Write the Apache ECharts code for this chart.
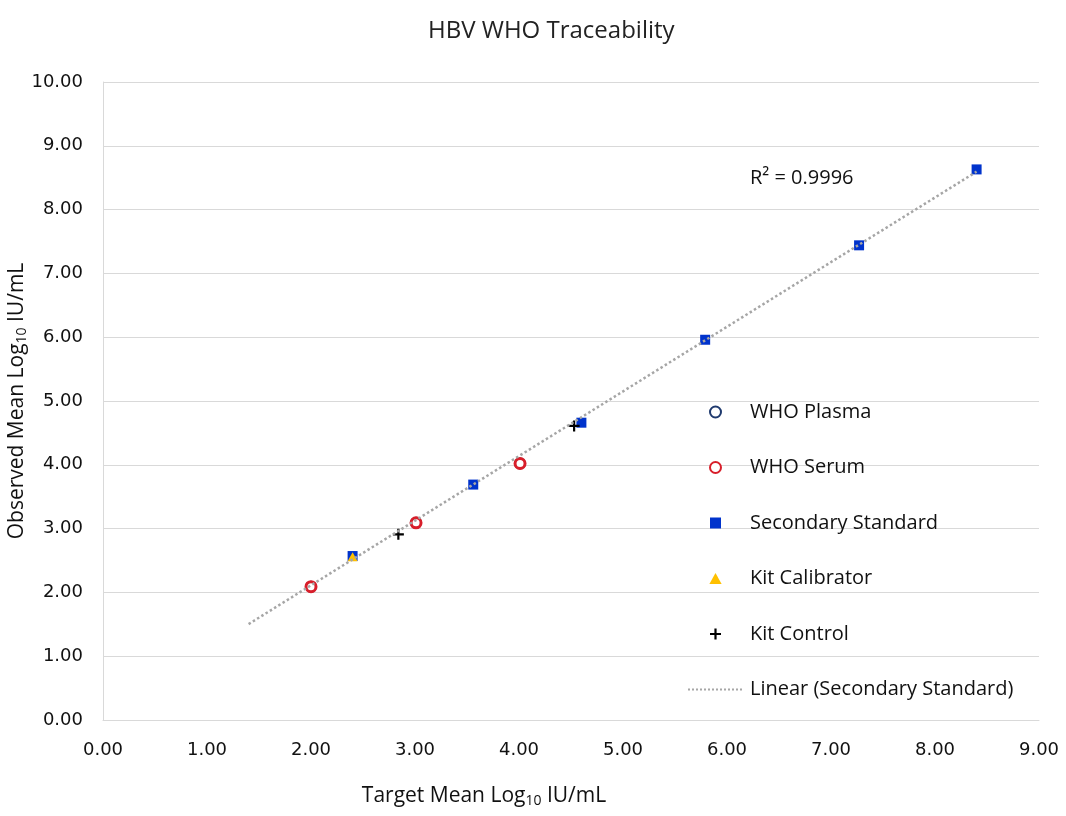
<!DOCTYPE html>
<html><head><meta charset="utf-8">
<script src="https://cdn.jsdelivr.net/npm/echarts@6/dist/echarts.min.js"></script>
<style>html,body{margin:0;padding:0;background:#fff}#c{width:1066px;height:816px}</style>
</head><body><div id="c"></div>
<script>
const titleText = 'HBV WHO Traceability';
const xTicks = [0,1,2,3,4,5,6,7,8,9];
const yTicks = [0,1,2,3,4,5,6,7,8,9,10];
const whoPlasma = [[2.00,2.09],[3.01,3.09],[4.01,4.02]];
const whoSerum = [[2.00,2.09],[3.01,3.09],[4.01,4.02]];
const secondaryStandard = [[2.40,2.57],[3.56,3.69],[4.60,4.66],[5.79,5.96],[7.27,7.44],[8.40,8.63]];
const kitCalibrator = [[2.40,2.56]];
const kitControl = [[2.84,2.91],[4.53,4.61]];
const r2Label = 'R² = 0.9996';
const backwardForecast = 1.0;

// linear regression trendline on secondary standard
const n = secondaryStandard.length;
let sx=0, sy=0, sxx=0, sxy=0;
secondaryStandard.forEach(([x,y])=>{sx+=x;sy+=y;sxx+=x*x;sxy+=x*y;});
const slope = (n*sxy - sx*sy)/(n*sxx - sx*sx);
const intercept = (sy - slope*sx)/n;
const xs = secondaryStandard.map(p=>p[0]);
const x0 = Math.min(...xs) - backwardForecast, x1 = Math.max(...xs);
const trend = [[x0, intercept+slope*x0],[x1, intercept+slope*x1]];

const plusPath = 'path://M4,0h2v4h4v2h-4v4h-2v-4h-4v-2h4z';
const rectPath = 'path://M0,0h10v10h-10z';
const triPath = 'path://M5,0L10,9L0,9z';
const font = '"Open Sans", "Liberation Sans", sans-serif';
const tickFont = '"DejaVu Sans", sans-serif';

const chart = echarts.init(document.getElementById('c'));
chart.setOption({
  animation:false,
  backgroundColor:'#fff',
  title:{text:titleText,left:423,top:14,textStyle:{fontFamily:font,fontSize:24,fontWeight:'normal',color:'#222'}},
  grid:{left:103,right:27,top:82,bottom:96,containLabel:false,outerBoundsMode:'none'},
  xAxis:{type:'value',min:0,max:9,interval:1,
    axisLine:{show:true,lineStyle:{color:'#d9d9d9'}},axisTick:{show:false},
    splitLine:{show:false},
    axisLabel:{formatter:v=>v.toFixed(2),fontFamily:tickFont,fontSize:18,color:'#111',margin:21},
    name:'{n|Target Mean Log}{s|10}{n| IU/mL}',nameLocation:'middle',nameGap:65,
    nameTextStyle:{padding:[0,174,0,0],rich:{n:{fontFamily:font,fontSize:21,color:'#111'},s:{fontFamily:font,fontSize:14,color:'#111',padding:[9,0,0,0]}}}
  },
  yAxis:{type:'value',min:0,max:10,interval:1,
    axisLine:{show:true,lineStyle:{color:'#d9d9d9'}},axisTick:{show:false},
    splitLine:{show:true,lineStyle:{color:'#d9d9d9'}},
    axisLabel:{formatter:v=>v.toFixed(2),fontFamily:tickFont,fontSize:18,color:'#111',margin:20},
    name:'{n|Observed Mean Log}{s|10}{n| IU/mL}',nameLocation:'middle',nameGap:74,nameMoveOverlap:false,
    nameTextStyle:{rich:{n:{fontFamily:font,fontSize:21,color:'#111'},s:{fontFamily:font,fontSize:14,color:'#111',padding:[9,0,0,0]}}}
  },
  legend:{orient:'vertical',left:682,top:396,itemWidth:55,itemHeight:11,itemGap:33.5,symbolKeepAspect:true,
    textStyle:{fontFamily:font,fontSize:20,color:'#111',lineHeight:22,padding:[0,0,0,2]},
    data:[
      {name:'WHO Plasma'},{name:'WHO Serum'},
      {name:'Secondary Standard',icon:rectPath},
      {name:'Kit Calibrator',icon:triPath},
      {name:'Kit Control'},
      {name:'Linear (Secondary Standard)',itemStyle:{opacity:0}}
    ]},
  graphic:[{type:'text',left:750,top:168,style:{text:r2Label,font:'20px "Open Sans", sans-serif',fill:'#111'}}],
  series:[
    {name:'WHO Plasma',type:'scatter',data:whoPlasma,symbol:'circle',symbolSize:10,
      itemStyle:{color:'#fff',borderColor:'#1f3a6e',borderWidth:2,opacity:1}},
    {name:'WHO Serum',type:'scatter',data:whoSerum,symbol:'circle',symbolSize:10,
      itemStyle:{color:'#fff',borderColor:'#d81e2a',borderWidth:3,opacity:1}},
    {name:'Secondary Standard',type:'scatter',data:secondaryStandard,symbol:'rect',symbolSize:10,
      itemStyle:{color:'#0033cc',opacity:1}},
    {name:'Kit Calibrator',type:'scatter',data:kitCalibrator,symbol:'triangle',symbolSize:[10,9],
      itemStyle:{color:'#ffc000',opacity:1}},
    {name:'Kit Control',type:'scatter',data:kitControl,symbol:plusPath,symbolSize:11,
      itemStyle:{color:'#000',opacity:1}},
    {name:'Linear (Secondary Standard)',type:'line',data:trend,symbol:'none',
      lineStyle:{color:'#a6a6a6',width:2.5,type:'dotted'},itemStyle:{color:'#a6a6a6'}}
  ]
});
</script></body></html>
